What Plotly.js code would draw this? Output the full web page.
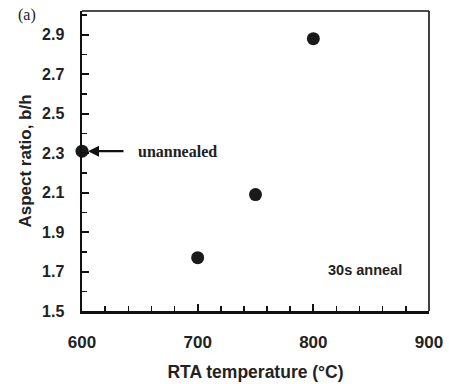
<!DOCTYPE html>
<html><head><meta charset="utf-8">
<script src="https://cdn.plot.ly/plotly-3.0.1.min.js"></script>
<style>html,body{margin:0;padding:0;background:#fff}#c{width:449px;height:384px}</style>
</head><body><div id="c"></div>
<script>
const temperatures = [600, 700, 750, 800];
const aspectRatios = [2.31, 1.77, 2.09, 2.88];
const xTicks = [600, 700, 800, 900];
const yTicks = [1.5, 1.7, 1.9, 2.1, 2.3, 2.5, 2.7, 2.9];

const F = 'Liberation Sans, Arial, sans-serif';
const S = 'Liberation Serif, Times New Roman, serif';
const trace = {
  x: temperatures, y: aspectRatios, type: 'scatter', mode: 'markers',
  marker: {size: 13, color: '#1a1a1a'}, hoverinfo: 'none', cliponaxis: false
};
const layout = {
  width: 449, height: 384,
  margin: {l: 82, r: 20, t: 11, b: 73},
  paper_bgcolor: '#fff', plot_bgcolor: '#fff', showlegend: false,
  xaxis: {
    range: [xTicks[0], xTicks[xTicks.length - 1]],
    tickmode: 'linear', tick0: xTicks[0], dtick: xTicks[1] - xTicks[0],
    ticks: 'inside', ticklen: 7, tickwidth: 2, tickcolor: '#111',
    minor: {tickmode: 'linear', tick0: 600, dtick: 20, ticks: 'inside', ticklen: 5, tickwidth: 1.5, tickcolor: '#111'},
    showline: true, linewidth: 2.5, linecolor: '#111', mirror: false,
    showgrid: false, zeroline: false,
    tickfont: {family: F, size: 17, color: '#222', weight: 'bold'},
    ticklabelstandoff: 14,
    title: {text: 'RTA temperature (°C)', font: {family: F, size: 17.5, color: '#222', weight: 'bold'}, standoff: 15}
  },
  yaxis: {
    range: [yTicks[0], 3.02],
    tickmode: 'linear', tick0: yTicks[0], dtick: 0.2,
    ticks: 'inside', ticklen: 7, tickwidth: 2, tickcolor: '#111',
    minor: {tickmode: 'linear', tick0: 1.5, dtick: 0.1, ticks: 'inside', ticklen: 5, tickwidth: 1.5, tickcolor: '#111'},
    showline: true, linewidth: 2.5, linecolor: '#111', mirror: false,
    showgrid: false, zeroline: false,
    tickfont: {family: F, size: 16, color: '#222', weight: 'bold'},
    ticklabelstandoff: 12, tickformat: '.1f',
    title: {text: 'Aspect ratio, b/h', font: {family: F, size: 17, color: '#222', weight: 'bold'}, standoff: 6}
  },
  shapes: [
    {type: 'line', xref: 'paper', yref: 'paper', x0: 0, x1: 1, y0: 1, y1: 1, line: {color: '#111', width: 1.6}},
    {type: 'line', xref: 'paper', yref: 'paper', x0: 1, x1: 1, y0: 0, y1: 1, line: {color: '#111', width: 1.6}}
  ],
  annotations: [
    {text: '(a)', xref: 'paper', yref: 'paper', x: -0.19, y: 0.987, xanchor: 'left', yanchor: 'middle',
     showarrow: false, font: {family: S, size: 16, color: '#222'}},
    {text: '<b>unannealed</b>', x: 600, y: 2.31, xref: 'x', yref: 'y', xanchor: 'left', xshift: 54,
     showarrow: false, font: {family: S, size: 16, color: '#222'}},
    {text: '', x: 600, y: 2.31, ax: 43, ay: 0, axref: 'pixel', ayref: 'pixel', xref: 'x', yref: 'y',
     showarrow: true, arrowhead: 2, arrowsize: 1, arrowwidth: 2.2, arrowcolor: '#111', standoff: 6},
    {text: '<b>30s anneal</b>', x: 878, y: 1.71, xref: 'x', yref: 'y', xanchor: 'right',
     showarrow: false, font: {family: F, size: 14.5, color: '#222'}}
  ]
};
Plotly.newPlot('c', [trace], layout, {staticPlot: true, displayModeBar: false});
</script></body></html>
